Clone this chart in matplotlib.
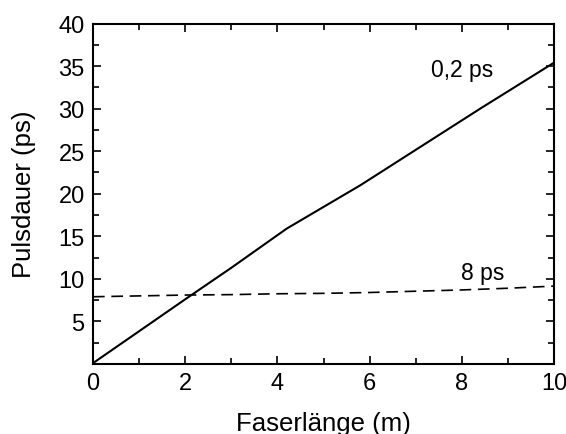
import matplotlib
matplotlib.use("Agg")
import matplotlib.pyplot as plt
from matplotlib.ticker import MultipleLocator

plt.rcParams["font.family"] = ["Liberation Sans", "DejaVu Sans"]

# Pulse duration vs. fibre length
len_short = [0.0, 1.0, 2.0, 3.0, 4.2, 5.8, 7.1, 8.4, 10.0]
dur_short = [0.1, 3.85, 7.6, 11.3, 15.9, 21.0, 25.5, 30.0, 35.4]

len_long = [0.0, 1.0, 2.0, 3.0, 4.0, 5.0, 6.0, 7.0, 8.0, 9.0, 10.0]
dur_long = [7.9, 8.0, 8.1, 8.15, 8.25, 8.3, 8.4, 8.55, 8.7, 8.9, 9.15]

fig = plt.figure(figsize=(5.66, 4.35), dpi=100)
ax = fig.add_axes([93 / 566, 1 - 365 / 435, 461 / 566, 340.5 / 435])

ax.plot(len_short, dur_short, c="black", lw=1.5)
ax.plot(len_long, dur_long, c="black", lw=1.2, ls=(0, (7, 4)))

ax.text(8.0, 34.6, "0,2 ps", fontsize=16.5, ha="center", va="center")
ax.text(8.45, 10.7, "8 ps", fontsize=16.5, ha="center", va="center")

ax.set_xlim(0, 10)
ax.set_ylim(0, 40)
ax.set_xticks([0, 2, 4, 6, 8, 10])
ax.set_yticks([5, 10, 15, 20, 25, 30, 35, 40])
ax.xaxis.set_minor_locator(MultipleLocator(1))
ax.yaxis.set_minor_locator(MultipleLocator(2.5))
ax.tick_params(which="both", direction="in", top=True, right=True,
               labelsize=17, width=1.2, pad=6)
ax.tick_params(which="major", length=6)
ax.tick_params(which="minor", length=4)
for s in ax.spines.values():
    s.set_linewidth(1.5)

ax.set_xlabel("Faserlänge (m)", fontsize=18.5, labelpad=12)
ax.set_ylabel("Pulsdauer (ps)", fontsize=18.5, labelpad=16)

fig.savefig("out.png", dpi=100)
